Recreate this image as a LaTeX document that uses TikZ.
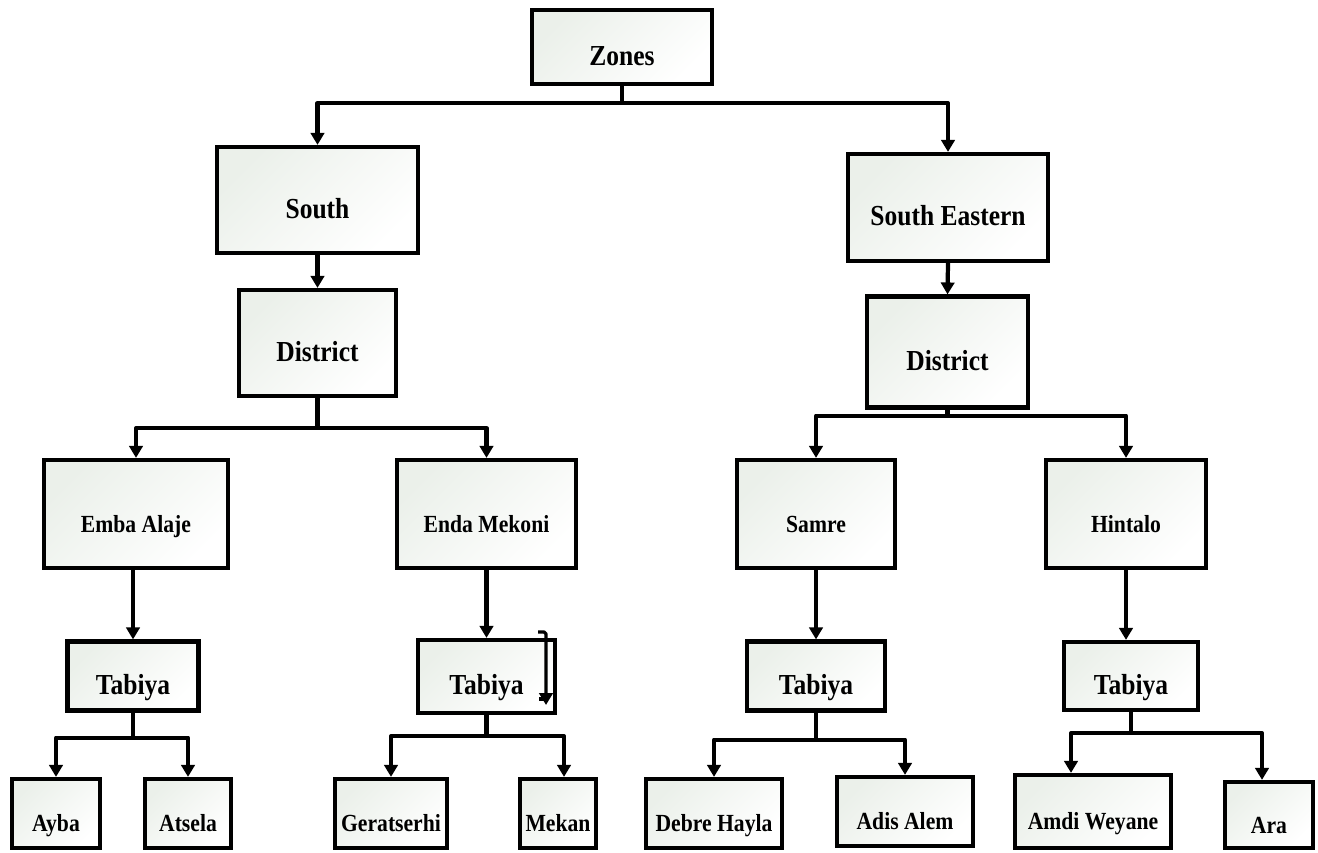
\documentclass[tikz,border=0pt]{standalone}
\usepackage{fontspec}
\setmainfont{Liberation Serif}[FakeStretch=0.88]
\usetikzlibrary{arrows.meta,calc}
\definecolor{tileshade}{HTML}{EBF0EA}

\begin{document}
\begin{tikzpicture}
	[
		x=0.2mm, y=-0.2mm,
		box/.style = {shape=rectangle, draw=black, line width=2.4pt, top color=tileshade, bottom color=white, shading angle=45, anchor=center, inner sep=0pt, text height=0.72cm, text depth=0pt, font=\bfseries\fontsize{14}{16}\selectfont},
		bigbox/.style = {box, font=\bfseries\fontsize{16.5}{19}\selectfont},
		link/.style = {line width=2.4pt, line join=round, -{Triangle[length=6.8pt, width=7.6pt]}}
	]
	
	\useasboundingbox (0,0) rectangle (1318,852);
	
	% top levels
	\node [bigbox, minimum width=36mm, minimum height=14.8mm] (zones) at (622, 47) {Zones};
	\node [bigbox, minimum width=40.2mm, minimum height=21.2mm] (south) at (317.5, 200) {South};
	\node [bigbox, minimum width=40mm, minimum height=21.4mm] (seast) at (948, 207.5) {South Eastern};
	\node [bigbox, minimum width=31.4mm, minimum height=21.2mm] (dist1) at (317.5, 343) {District};
	\node [bigbox, minimum width=32.2mm, minimum height=22.2mm] (dist2) at (947.5, 352) {District};
	
	% districts
	\node [box, minimum width=36.8mm, minimum height=21.6mm] (emba) at (136, 514) {Emba Alaje};
	\node [box, minimum width=35.8mm, minimum height=21.6mm] (enda) at (486.5, 514) {Enda Mekoni};
	\node [box, minimum width=31.6mm, minimum height=21.6mm] (samre) at (816, 514) {Samre};
	\node [box, minimum width=32mm, minimum height=21.6mm] (hintalo) at (1126, 514) {Hintalo};
	
	% tabiya boxes
	\node [bigbox, minimum width=26.2mm, minimum height=13.8mm] (tab1) at (133, 676) {Tabiya};
	\node [bigbox, minimum width=27.4mm, minimum height=14.6mm] (tab2) at (486.5, 676.5) {Tabiya};
	\node [bigbox, minimum width=27.6mm, minimum height=13.8mm] (tab3) at (816, 676) {Tabiya};
	\node [bigbox, minimum width=26.8mm, minimum height=13.6mm] (tab4) at (1131, 676) {Tabiya};
	
	% bottom row
	\node [box, minimum width=17.6mm, minimum height=13.8mm] (ayba) at (56, 813.5) {Ayba};
	\node [box, minimum width=17.2mm, minimum height=13.8mm] (atsela) at (188, 813.5) {Atsela};
	\node [box, minimum width=22.4mm, minimum height=13.8mm] (gerat) at (391, 813.5) {Geratserhi};
	\node [box, minimum width=15.2mm, minimum height=13.8mm] (mekan) at (558, 813.5) {Mekan};
	\node [box, minimum width=27.2mm, minimum height=13.8mm] (debre) at (714, 813.5) {Debre Hayla};
	\node [box, minimum width=27.2mm, minimum height=13.8mm] (adis) at (905, 811.5) {Adis Alem};
	\node [box, minimum width=31.2mm, minimum height=14.6mm] (amdi) at (1093, 811.5) {Amdi Weyane};
	\node [box, minimum width=17.6mm, minimum height=13.2mm] (ara) at (1269, 815) {Ara};
	
	\draw [link] (zones.south) -- ++(0,17) -| (south.north);
	\draw [link] (zones.south) -- ++(0,17) -| (seast.north);
	\draw [link] (south.south) -- (dist1.north);
	\draw [link] (seast.south) -- (dist2.north);
	
	\draw [link] (dist1.south) -- ++(0,30) -| (emba.north);
	\draw [link] (dist1.south) -- ++(0,30) -| (enda.north);
	\draw [link] (dist2.south) -- ++(0,6) -| (samre.north);
	\draw [link] (dist2.south) -- ++(0,6) -| (hintalo.north);
	
	\draw [link] (tab1.north |- emba.south) -- (tab1.north);
	\draw [link] (enda.south) -- (tab2.north);
	\draw [link] (samre.south) -- (tab3.north);
	\draw [link] (hintalo.south) -- (hintalo.south |- tab4.north);
	
	\draw [link] (tab1.south) -- ++(0,25) -| (ayba.north);
	\draw [link] (tab1.south) -- ++(0,25) -| (atsela.north);
	\draw [link] (tab2.south) -- ++(0,21) -| (gerat.north);
	\draw [link] (tab2.south) -- ++(0,21) -| ($(mekan.north)+(6,0)$);
	\draw [link] (tab3.south) -- ++(0,27) -| (debre.north);
	\draw [link] (tab3.south) -- ++(0,27) -| (adis.north);
	\draw [link] (tab4.south) -- ++(0,21) -| ($(amdi.north)+(-22,0)$);
	\draw [link] (tab4.south) -- ++(0,21) -| ($(ara.north)+(-7,0)$);
	
	% stray bracket on the second tabiya
	\coordinate (brtop) at (538, 632);
	\coordinate (brend) at (546, 705);
	\coordinate (brtick) at (539, 699);
	\draw [link, line width=1.8pt, rounded corners=1pt] (brtop) -- (brtop -| brend) -- (brend);
	\draw [line width=1.8pt] (brtick) -- (brtick -| brend);
	
\end{tikzpicture}
\end{document}
